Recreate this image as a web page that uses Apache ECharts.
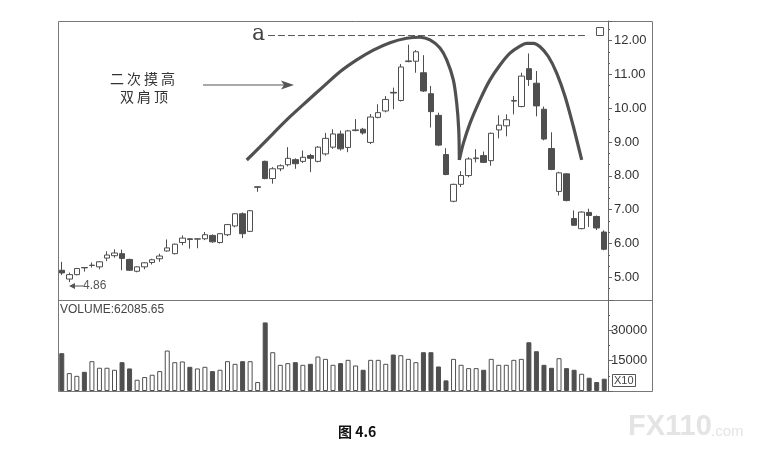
<!DOCTYPE html>
<html>
<head>
<meta charset="utf-8">
<script src="https://cdn.jsdelivr.net/npm/echarts@6/dist/echarts.min.js"></script>
<style>
html,body{margin:0;padding:0;background:#fff;}
#chart{width:757px;height:450px;}
</style>
</head>
<body>
<div id="chart"></div>
<script>
// ---- data ----
const categories = Array.from({length: 73}, (_, i) => String(i + 1));
const opens  = [5.21,4.95,5.08,5.29,5.35,5.31,5.57,5.64,5.70,5.53,5.18,5.31,5.44,5.55,5.78,5.70,6.03,6.14,6.13,6.14,6.24,6.03,6.26,6.52,6.88,6.36,7.66,8.43,7.92,8.21,8.33,8.48,8.43,8.60,8.43,8.65,8.85,9.24,8.84,9.34,9.38,8.99,9.73,9.92,10.47,10.23,11.38,11.39,11.05,10.43,9.79,8.63,7.25,7.75,8.01,8.51,8.60,8.45,9.36,9.48,10.21,10.05,11.17,10.74,9.97,8.81,7.54,8.06,6.74,6.44,6.92,6.80,6.34];
const closes = [5.13,5.08,5.26,5.28,5.36,5.46,5.66,5.72,5.56,5.21,5.31,5.43,5.52,5.63,5.87,5.98,6.16,6.12,6.14,6.26,6.05,6.29,6.56,6.88,6.29,6.97,7.68,7.92,8.21,8.30,8.52,8.36,8.55,8.52,8.85,9.11,9.24,8.80,9.33,9.36,9.27,9.74,9.87,10.26,10.45,11.22,11.40,11.67,10.51,9.90,8.91,8.04,7.75,8.01,8.50,8.53,8.40,9.26,9.50,9.66,10.23,10.95,10.85,10.07,9.09,8.19,8.09,7.27,6.54,6.93,6.83,6.46,5.83];
const lows   = [5.07,4.86,5.06,5.17,5.29,5.24,5.48,5.58,5.21,5.19,5.15,5.24,5.38,5.46,5.76,5.68,5.95,5.85,5.86,6.10,6.02,6.00,6.22,6.48,6.16,6.34,7.53,7.90,7.77,8.14,8.28,8.21,8.38,8.11,8.40,8.60,8.80,8.75,8.70,9.32,9.22,8.94,9.70,9.88,9.97,10.20,11.36,11.05,10.48,9.43,8.88,8.02,7.22,7.67,7.96,8.40,8.38,8.30,9.11,9.17,9.82,10.03,10.66,9.76,9.05,8.17,7.42,7.25,6.52,6.42,6.49,6.40,5.80];
const highs  = [5.46,5.14,5.28,5.30,5.44,5.48,5.77,5.83,5.82,5.55,5.33,5.45,5.55,5.70,6.12,6.00,6.24,6.15,6.15,6.34,6.27,6.31,6.58,6.90,6.92,6.99,7.69,8.45,8.26,8.34,8.85,8.52,8.75,8.65,8.88,9.27,9.38,9.34,9.36,9.68,9.42,9.83,10.12,10.36,10.61,11.31,11.88,11.72,11.57,10.66,9.87,8.82,7.77,8.14,8.55,8.79,8.72,9.28,9.79,9.82,10.36,11.05,11.62,11.10,10.05,9.29,8.12,8.08,6.98,6.95,7.03,6.83,6.39];
const volumes = [18700,8850,7500,9500,14750,11500,11500,10500,14250,11150,5570,6900,8030,9840,20000,14250,14600,11960,11150,11960,9840,10500,14750,13440,14750,14750,4430,33900,19180,12950,13770,14260,12950,13440,17050,15900,12950,13770,15410,12620,10500,15410,15410,13440,18030,17700,15900,14260,19180,19180,12130,5250,15900,12950,11310,11310,10500,15900,12950,12950,15410,15900,24100,19670,12950,11470,16230,11310,10500,8520,6560,4430,6070];
// hand-drawn annotation arcs, in (bar index, price) space
const arcLeft  = [[24.55,8.47],[26.31,8.86],[28.08,9.26],[30.30,9.75],[32.51,10.20],[34.71,10.64],[36.93,11.08],[39.15,11.43],[41.35,11.72],[43.57,11.94],[45.78,12.07],[47.55,12.10],[48.88,12.02],[50.20,11.78],[51.09,11.43],[51.97,10.84],[52.42,10.15],[52.69,9.36],[52.77,8.47]];
const arcRight = [[52.77,8.47],[53.30,8.96],[54.19,9.56],[55.51,10.25],[56.84,10.84],[58.17,11.28],[59.49,11.63],[60.82,11.84],[61.71,11.92],[62.59,11.92],[63.48,11.82],[64.58,11.53],[65.69,11.04],[66.81,10.34],[67.90,9.46],[69.01,8.47]];
const levelA = [[27.37,12.15],[69.85,12.15]];
const volumeTitle = 'VOLUME:62085.65';
const lowLabel = '4.86';

const candleData = opens.map((o, i) => [o, closes[i], lows[i], highs[i]]);
const isDown = opens.map((o, i) => closes[i] < o);

const DARK = '#4f4f4f';
const chart = echarts.init(document.getElementById('chart'), null, {renderer: 'canvas'});

const cjk = '"Noto Sans CJK SC", sans-serif';
const row1 = ['二','次','摸','高'];
const row2 = ['双','肩','顶'];
const graphics = [];
graphics.push({type:'rect', shape:{x:58.5,y:21.5,width:594,height:370}, style:{fill:'none',stroke:'#777',lineWidth:1}, z:0});
graphics.push({type:'line', shape:{x1:58,y1:300.5,x2:652,y2:300.5}, style:{stroke:'#777',lineWidth:1}});
graphics.push({type:'rect', shape:{x:596.5,y:27.5,width:7,height:8}, style:{fill:'#fff',stroke:'#555',lineWidth:1}});
graphics.push({type:'text', x:252, y:34, style:{text:'a', font:'22px "DejaVu Serif", serif', fill:'#444', verticalAlign:'middle'}});
row1.forEach((c, i) => graphics.push({type:'text', x:110 + i*17, y:79, style:{text:c, font:'14px '+cjk, fill:'#333', verticalAlign:'middle'}}));
row2.forEach((c, i) => graphics.push({type:'text', x:120 + i*17, y:97, style:{text:c, font:'14px '+cjk, fill:'#333', verticalAlign:'middle'}}));
graphics.push({type:'line', shape:{x1:203,y1:85,x2:286,y2:85}, style:{stroke:'#555',lineWidth:1.2}});
graphics.push({type:'polygon', shape:{points:[[294,85],[281,80.5],[284,85],[281,89.5]]}, style:{fill:'#555'}});
graphics.push({type:'line', shape:{x1:71,y1:286,x2:83,y2:286}, style:{stroke:'#555',lineWidth:1}});
graphics.push({type:'polygon', shape:{points:[[69,286],[75,283],[75,289]]}, style:{fill:'#555'}});
graphics.push({type:'text', x:83, y:286, style:{text:lowLabel, font:'12px "Liberation Sans", Arial, sans-serif', fill:'#555', verticalAlign:'middle'}});
graphics.push({type:'text', x:60, y:310, style:{text:volumeTitle, font:'12px "Liberation Sans", Arial, sans-serif', fill:'#444', verticalAlign:'middle'}});
graphics.push({type:'rect', shape:{x:612.5,y:374.5,width:23,height:12}, style:{fill:'#fff',stroke:'#555',lineWidth:1}});
graphics.push({type:'text', x:614, y:381, style:{text:'X10', font:'11px "Liberation Sans", Arial, sans-serif', fill:'#444', verticalAlign:'middle'}});
graphics.push({type:'text', x:338, y:432, style:{text:'图 4.6', font:'bold 14px '+cjk, fill:'#111', verticalAlign:'middle'}});
graphics.push({type:'text', x:628, y:427, style:{text:'FX110', font:'bold 29px "Liberation Sans", Arial, sans-serif', fill:'#e4e4e4', verticalAlign:'middle'}});
graphics.push({type:'text', x:711, y:432, style:{text:'.com', font:'15px "Liberation Sans", Arial, sans-serif', fill:'#e4e4e4', verticalAlign:'middle'}});

const axisFont = {fontFamily:'"Liberation Sans", Arial, sans-serif', fontSize:13, color:'#333'};

const option = {
  animation: false,
  backgroundColor: '#fff',
  grid: [
    {left:58, top:21, width:550, height:279},
    {left:58, top:300, width:550, height:91}
  ],
  xAxis: [
    {type:'category', gridIndex:0, data:categories, boundaryGap:true, axisLine:{show:false}, axisTick:{show:false}, axisLabel:{show:false}, splitLine:{show:false}},
    {type:'category', gridIndex:1, data:categories, boundaryGap:true, axisLine:{show:false}, axisTick:{show:false}, axisLabel:{show:false}, splitLine:{show:false}},
    {type:'value', gridIndex:0, min:-0.5, max:72.5, show:false, axisLine:{onZero:false}}
  ],
  yAxis: [
    {type:'value', gridIndex:0, position:'right', min:4.33, max:12.58, splitNumber:8,
     axisLine:{show:true, onZero:false, lineStyle:{color:'#666'}},
     axisTick:{show:true, inside:false, length:4, lineStyle:{color:'#666'}},
     minorTick:{show:true, splitNumber:3, length:2, lineStyle:{color:'#666'}},
     splitLine:{show:false},
     axisLabel:Object.assign({margin:6, formatter: v => Math.abs(v - Math.round(v)) < 1e-6 ? v.toFixed(2) : ''}, axisFont)},
    {type:'value', gridIndex:1, position:'right', min:0, max:45000, interval:15000,
     axisLine:{show:true, onZero:false, lineStyle:{color:'#666'}},
     axisTick:{show:true, inside:false, length:5, lineStyle:{color:'#666'}},
     minorTick:{show:true, splitNumber:2, length:2, lineStyle:{color:'#666'}},
     splitLine:{show:false},
     axisLabel:Object.assign({margin:3, formatter: v => (v === 15000 || v === 30000) ? String(v) : ''}, axisFont)}
  ],
  series: [
    {type:'candlestick', xAxisIndex:0, yAxisIndex:0, data:candleData, barWidth:6,
     itemStyle:{color:'#fff', color0:DARK, borderColor:DARK, borderColor0:DARK, borderWidth:1}},
    {type:'bar', xAxisIndex:1, yAxisIndex:1, barWidth:5,
     data: volumes.map((v, i) => ({value:v, itemStyle: isDown[i] ? {color:DARK, borderColor:DARK, borderWidth:1} : {color:'#fff', borderColor:DARK, borderWidth:1}}))},
    {type:'line', xAxisIndex:2, yAxisIndex:0, data:arcLeft, smooth:0.3, symbol:'none', lineStyle:{color:'#505050', width:3.2}, z:5},
    {type:'line', xAxisIndex:2, yAxisIndex:0, data:arcRight, smooth:0.3, symbol:'none', lineStyle:{color:'#505050', width:3.2}, z:5},
    {type:'line', xAxisIndex:2, yAxisIndex:0, data:levelA, symbol:'none', lineStyle:{color:'#555', width:1, type:[7,3]}, z:4}
  ],
  graphic: graphics
};
chart.setOption(option);
</script>
</body>
</html>
